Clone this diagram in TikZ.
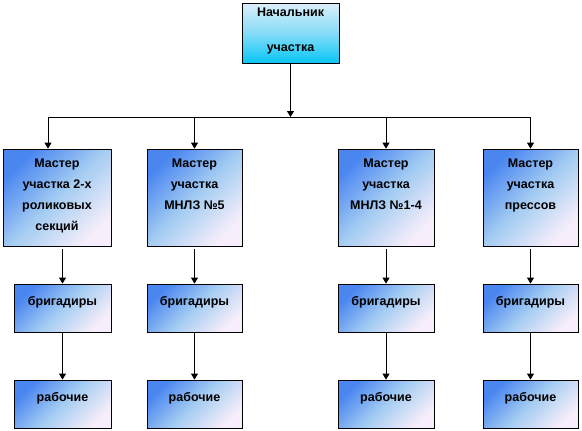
\documentclass[tikz,border=0pt]{standalone}
\usepackage{fontspec}
\setmainfont{Liberation Sans}
\usetikzlibrary{arrows.meta}
\definecolor{boxblue}{HTML}{4A86F0}
\definecolor{boxmid}{HTML}{A4CCF2}
\definecolor{boxpale}{HTML}{F6EEFA}
\definecolor{headpale}{HTML}{DCEEFA}
\definecolor{headmid}{HTML}{86DCF8}
\definecolor{headcyan}{HTML}{08C6F6}

\tikzset{
  unitbox/.style={draw=black, line width=0.8pt, shading=axis, top color=boxblue,
    bottom color=boxpale, middle color=boxmid, shading angle=45, align=center,
    inner sep=0pt, font=\bfseries\fontsize{12.5}{21}\selectfont},
  headbox/.style={unitbox, top color=headpale, bottom color=headcyan, middle color=headmid,
    font=\bfseries\fontsize{12.5}{17.5}\selectfont},
  link/.style={line width=0.8pt},
  arr/.style={link, -{Triangle[width=7pt,length=6pt]}}
}

\begin{document}
\begin{tikzpicture}[x=1pt, y=-1pt]
  \useasboundingbox (0,0) rectangle (582,431);

  % Head of the section
  \node[headbox, minimum width=97pt, minimum height=60pt] (head) at (290.5,33) {Начальник\\\strut\\участка\\[-10.5pt]~};

  % Masters
  \node[unitbox, minimum width=108pt, minimum height=97pt] (m1) at (57,197.5) {Мастер\\участка 2-х\\роликовых\\секций\\[-15pt]~};
  \node[unitbox, minimum width=95pt, minimum height=97pt] (m2) at (194.5,197.5) {Мастер\\участка\\МНЛЗ №5\\[6pt]~};
  \node[unitbox, minimum width=96pt, minimum height=97pt] (m3) at (386,197.5) {Мастер\\участка\\МНЛЗ №1-4\\[6pt]~};
  \node[unitbox, minimum width=95pt, minimum height=97pt] (m4) at (530.5,197.5) {Мастер\\участка\\прессов\\[6pt]~};

  % Foremen
  \node[unitbox, minimum width=97pt, minimum height=48pt] (b1) at (62.5,308) {бригадиры\\[-6pt]~};
  \node[unitbox, minimum width=95pt, minimum height=48pt] (b2) at (194.5,308) {бригадиры\\[-6pt]~};
  \node[unitbox, minimum width=96pt, minimum height=48pt] (b3) at (386,308) {бригадиры\\[-6pt]~};
  \node[unitbox, minimum width=95pt, minimum height=48pt] (b4) at (530.5,308) {бригадиры\\[-6pt]~};

  % Workers
  \node[unitbox, minimum width=97pt, minimum height=48pt] (r1) at (62.5,404) {рабочие\\[-6pt]~};
  \node[unitbox, minimum width=95pt, minimum height=48pt] (r2) at (194.5,404) {рабочие\\[-6pt]~};
  \node[unitbox, minimum width=96pt, minimum height=48pt] (r3) at (386,404) {рабочие\\[-6pt]~};
  \node[unitbox, minimum width=95pt, minimum height=48pt] (r4) at (530.5,404) {рабочие\\[-6pt]~};

  % Bus line
  \coordinate (bus) at (290.5,117);
  \coordinate (j1) at (48,117);
  \coordinate (j4) at (m4.north |- bus);
  \draw[arr] (head.south) -- (bus);
  \draw[link] (j1) -- (j4);
  \draw[arr] (j1) -- (j1 |- m1.north);
  \draw[arr] (m2.north |- bus) -- (m2.north);
  \draw[arr] (m3.north |- bus) -- (m3.north);
  \draw[arr] (j4) -- (m4.north);

  % Masters to foremen to workers
  \draw[arr, shorten <=3pt] (b1.north |- m1.south) -- (b1.north);
  \draw[arr, shorten <=3pt] (m2.south) -- (b2.north);
  \draw[arr, shorten <=3pt] (m3.south) -- (b3.north);
  \draw[arr, shorten <=3pt] (m4.south) -- (b4.north);
  \draw[arr] (b1.south) -- (r1.north);
  \draw[arr] (b2.south) -- (r2.north);
  \draw[arr] (b3.south) -- (r3.north);
  \draw[arr] (b4.south) -- (r4.north);
\end{tikzpicture}
\end{document}
